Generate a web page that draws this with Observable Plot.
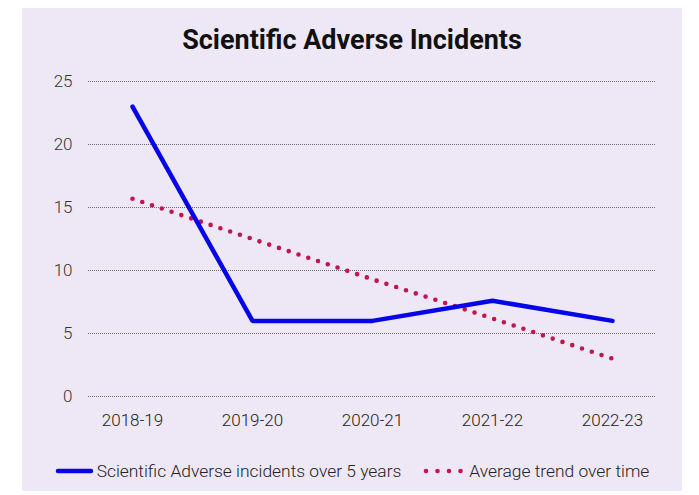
<!DOCTYPE html>
<html>
<head>
<meta charset="utf-8">
<script src="https://cdn.jsdelivr.net/npm/d3@7"></script>
<script src="https://cdn.jsdelivr.net/npm/@observablehq/plot@0.6"></script>
<style>
  html, body { margin: 0; padding: 0; background: #ffffff; }
  body { width: 699px; height: 495px; position: relative; overflow: hidden; font-family: Roboto, "Noto Sans", sans-serif; }
  #panel { position: absolute; left: 22px; top: 8px; width: 660px; height: 483px; background: #EEE8F6; }
  #title { position: absolute; left: 0; width: 660px; top: 16px; text-align: center; font-size: 27px; font-weight: 700; color: #111; }
  #chart { position: absolute; left: 0; top: 56px; }
  #legend { position: absolute; left: 0; width: 660px; top: 453px; font-size: 17.4px; font-weight: 300; color: #222; display: flex; justify-content: center; align-items: center; }
  .item { display: flex; align-items: center; }
  .item svg { margin-right: 3px; }
</style>
</head>
<body>
<div id="panel">
  <div id="title">Scientific Adverse Incidents</div>
  <div id="chart"></div>
  <div id="legend"></div>
</div>
<script>
const years = ["2018-19", "2019-20", "2020-21", "2021-22", "2022-23"];
const incidents = [23, 6, 6, 7.6, 6];
const trend = [15.7, 12.5, 9.3, 6.2, 3.0];
const yTicks = [0, 5, 10, 15, 20, 25];
const seriesNames = ["Scientific Adverse incidents over 5 years", "Average trend over time"];
const blue = "#0505E8";
const red = "#C2154E";

const incData = years.map((y, i) => ({year: y, value: incidents[i]}));
const trendData = years.map((y, i) => ({year: y, value: trend[i]}));

const chart = Plot.plot({
  width: 660,
  height: 388,
  marginLeft: 66,
  marginRight: 26,
  marginTop: 17,
  marginBottom: 56,
  style: { background: "transparent", fontFamily: "Roboto, sans-serif", fontSize: "17px", fontWeight: 300, color: "#222" },
  x: { type: "point", domain: years, padding: 0.35, label: null },
  y: { domain: [0, 25], label: null },
  marks: [
    Plot.ruleY(yTicks, { stroke: "#6a6a6a", strokeWidth: 1, strokeDasharray: "1,1" }),
    Plot.axisX({ tickSize: 0, tickPadding: 17, fontSize: 17, fill: "#222" }),
    Plot.axisY({ ticks: yTicks, tickSize: 0, tickPadding: 16, fontSize: 17, fill: "#333" }),
    Plot.line(trendData, { x: "year", y: "value", stroke: red, strokeWidth: 4.6, strokeDasharray: "0,10.3", strokeLinecap: "round" }),
    Plot.line(incData, { x: "year", y: "value", stroke: blue, strokeWidth: 4.5, strokeLinejoin: "miter", strokeLinecap: "round" })
  ]
});
document.getElementById("chart").appendChild(chart);

const legend = document.getElementById("legend");
legend.innerHTML = `
  <div class="item"><svg width="39" height="10"><line x1="3" y1="5" x2="36" y2="5" stroke="${blue}" stroke-width="4.5" stroke-linecap="round"/></svg>${seriesNames[0]}</div>
  <div class="item" style="margin-left:21px"><svg width="44" height="10"><line x1="4" y1="5" x2="39.5" y2="5" stroke="${red}" stroke-width="4.6" stroke-dasharray="0,11.5" stroke-linecap="round"/></svg>${seriesNames[1]}</div>
`;
</script>
</body>
</html>
